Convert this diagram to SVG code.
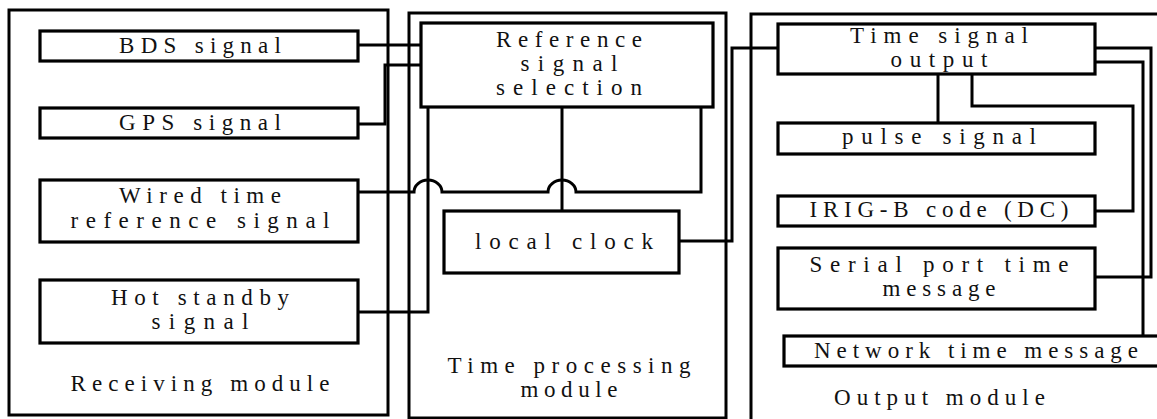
<svg xmlns="http://www.w3.org/2000/svg" width="1157" height="419" viewBox="0 0 1157 419">
  <style>
    .module { fill: none; stroke: #000; stroke-width: 3; }
    .box { fill: #fff; stroke: #000; stroke-width: 3.2; }
    .wire { fill: none; stroke: #000; stroke-width: 3; stroke-linejoin: miter; }
    text { font-family: "Liberation Serif", "Times New Roman", serif; font-size: 23px; fill: #111; }
    .c { text-anchor: middle; }
  </style>
  <rect width="1157" height="419" fill="#fff"/>

  <!-- module frames -->
  <g id="receiving-module">
    <rect class="module" x="9" y="10" width="379" height="405"/>
    <text class="c" x="200" y="391" textLength="259" lengthAdjust="spacing">Receiving module</text>
  </g>
  <g id="time-processing-module">
    <rect class="module" x="409" y="13" width="317" height="405"/>
    <text class="c" x="569" y="373" textLength="243" lengthAdjust="spacing">Time processing</text>
    <text class="c" x="569" y="397" textLength="97" lengthAdjust="spacing">module</text>
  </g>
  <g id="output-module">
    <path class="module" d="M751,425 V14 H1165"/>
    <text x="834" y="405" textLength="211" lengthAdjust="spacing">Output module</text>
  </g>

  <!-- connectors -->
  <g id="connectors">
    <!-- BDS -> reference selection -->
    <path class="wire" d="M358,45 H421"/>
    <!-- GPS -> reference selection -->
    <path class="wire" d="M358,124 H385 V65 H421"/>
    <!-- wired time reference -> right branch, hopping the two verticals -->
    <path class="wire" d="M358,192 H414 A14,12 0 0 1 442,192 H548 A14,12 0 0 1 576,192 H701 V107"/>
    <!-- hot standby -> left branch -->
    <path class="wire" d="M358,312 H428 V107"/>
    <!-- reference selection -> local clock -->
    <path class="wire" d="M562,107 V211"/>
    <!-- local clock -> time signal output -->
    <path class="wire" d="M679,241 H732 V48 H778"/>
    <!-- time signal output -> pulse signal -->
    <path class="wire" d="M938,74 V123"/>
    <!-- time signal output -> IRIG-B -->
    <path class="wire" d="M972,74 V106 H1133 V211 H1095"/>
    <!-- time signal output -> serial port -->
    <path class="wire" d="M1095,48 H1151 V277 H1095"/>
    <!-- time signal output -> network message -->
    <path class="wire" d="M1095,62 H1143 V336"/>
  </g>

  <!-- receiving nodes -->
  <g id="bds-signal">
    <rect class="box" x="40" y="31" width="318" height="30"/>
    <text class="c" x="200" y="53" textLength="162" lengthAdjust="spacing">BDS signal</text>
  </g>
  <g id="gps-signal">
    <rect class="box" x="40" y="108" width="318" height="30"/>
    <text class="c" x="200" y="130" textLength="162" lengthAdjust="spacing">GPS signal</text>
  </g>
  <g id="wired-time-reference">
    <rect class="box" x="40" y="180" width="318" height="62"/>
    <text class="c" x="200" y="203" textLength="162" lengthAdjust="spacing">Wired time</text>
    <text class="c" x="200" y="228" textLength="259" lengthAdjust="spacing">reference signal</text>
  </g>
  <g id="hot-standby">
    <rect class="box" x="40" y="280" width="318" height="63"/>
    <text class="c" x="200" y="305" textLength="178" lengthAdjust="spacing">Hot standby</text>
    <text class="c" x="200" y="329" textLength="97" lengthAdjust="spacing">signal</text>
  </g>

  <!-- processing nodes -->
  <g id="reference-selection">
    <rect class="box" x="421" y="23" width="292" height="84"/>
    <text class="c" x="569" y="47" textLength="146" lengthAdjust="spacing">Reference</text>
    <text class="c" x="569" y="71" textLength="97" lengthAdjust="spacing">signal</text>
    <text class="c" x="569" y="95" textLength="146" lengthAdjust="spacing">selection</text>
  </g>
  <g id="local-clock">
    <rect class="box" x="444" y="211" width="235" height="62"/>
    <text class="c" x="564" y="249" textLength="178" lengthAdjust="spacing">local clock</text>
  </g>

  <!-- output nodes -->
  <g id="time-signal-output">
    <rect class="box" x="778" y="24" width="317" height="50"/>
    <text class="c" x="939" y="43" textLength="178" lengthAdjust="spacing">Time signal</text>
    <text class="c" x="939" y="67" textLength="97" lengthAdjust="spacing">output</text>
  </g>
  <g id="pulse-signal">
    <rect class="box" x="778" y="123" width="317" height="31"/>
    <text class="c" x="939" y="144" textLength="194" lengthAdjust="spacing">pulse signal</text>
  </g>
  <g id="irig-b">
    <rect class="box" x="778" y="196" width="317" height="30"/>
    <text class="c" x="939" y="217" textLength="259" lengthAdjust="spacing">IRIG-B code (DC)</text>
  </g>
  <g id="serial-port-message">
    <rect class="box" x="778" y="248" width="317" height="61"/>
    <text class="c" x="939" y="272" textLength="259" lengthAdjust="spacing">Serial port time</text>
    <text class="c" x="939" y="296" textLength="113" lengthAdjust="spacing">message</text>
  </g>
  <g id="network-message">
    <rect class="box" x="784" y="336" width="380" height="30"/>
    <text class="c" x="976" y="358" textLength="324" lengthAdjust="spacing">Network time message</text>
  </g>
</svg>
